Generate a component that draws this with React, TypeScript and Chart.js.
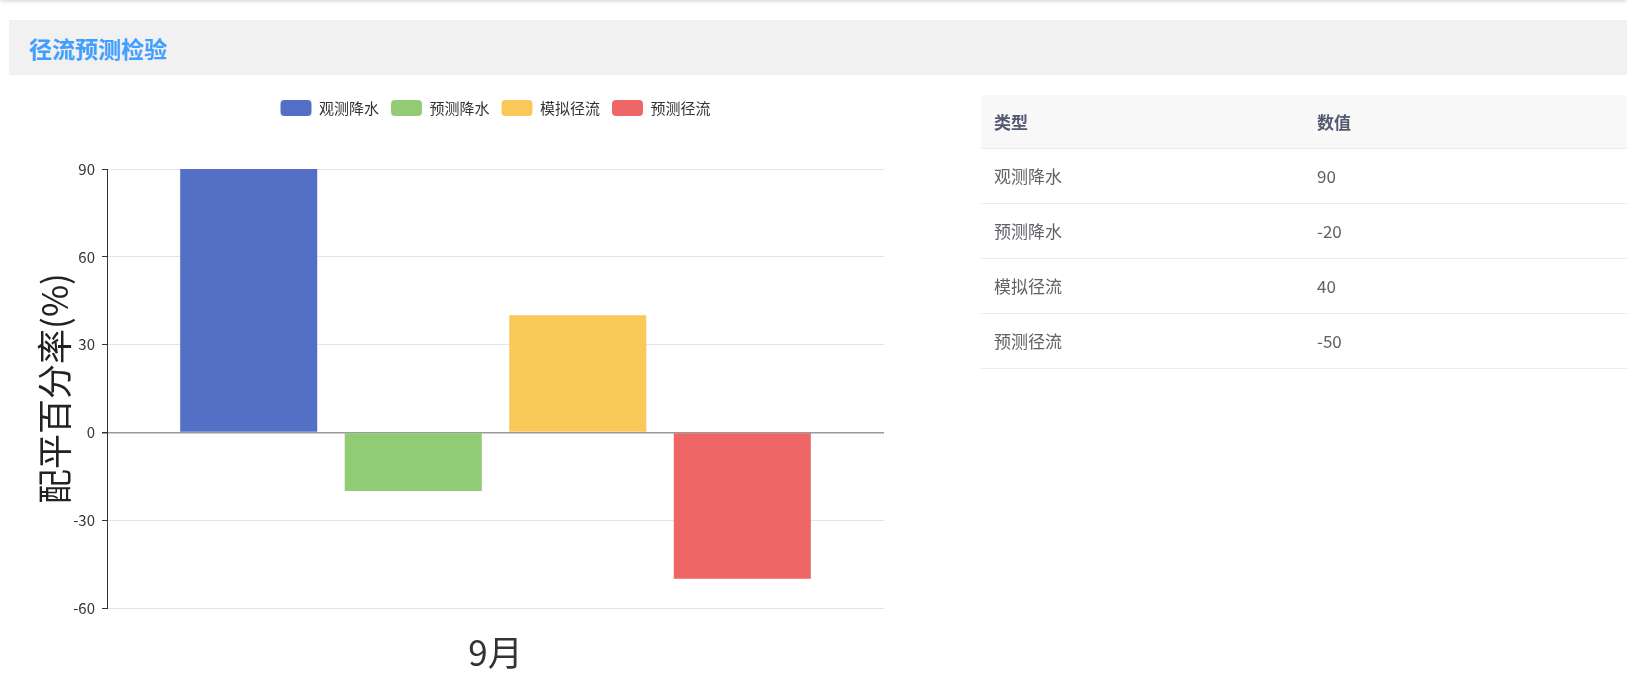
import React, { useEffect, useRef } from 'react';
import { Chart, registerables } from 'chart.js';

Chart.register(...registerables);

const pageTitle = '径流预测检验';
const categories = ['9月'];
const seriesNames = ['观测降水', '预测降水', '模拟径流', '预测径流'];
const seriesValues = [90, -20, 40, -50];
const seriesColors = ['#5470c6', '#91cc75', '#fac858', '#ee6666'];
const yMin = -60;
const yMax = 90;
const yStep = 30;
const yTitle = '配平百分率(%)';
const tableHeaders = ['类型', '数值'];

const FONT = '"Noto Sans CJK SC", "Microsoft YaHei", "Noto Sans", sans-serif';

const legendSpacer = {
  id: 'legendSpacer',
  beforeInit(chart: any) {
    const legend = chart.legend;
    if (!legend) return;
    const orig = legend.fit;
    legend.fit = function () {
      orig.call(this);
      this.height += 43;
    };
  },
};

function BarChart() {
  const ref = useRef<HTMLCanvasElement | null>(null);
  useEffect(() => {
    if (!ref.current) return;
    const chart = new Chart(ref.current, {
      type: 'bar',
      data: {
        labels: categories,
        datasets: seriesNames.map((name, i) => ({
          label: name,
          data: [seriesValues[i]],
          backgroundColor: seriesColors[i],
          borderWidth: 0,
          categoryPercentage: 0.847,
          barPercentage: 0.833,
        })),
      },
      options: {
        animation: false,
        responsive: false,
        maintainAspectRatio: false,
        layout: { padding: { top: 8, right: 0, bottom: 0, left: 0 } },
        font: { family: FONT },
        plugins: {
          tooltip: { enabled: false },
          legend: {
            position: 'top',
            labels: {
              boxWidth: 31,
              boxHeight: 16,
              padding: 12,
              useBorderRadius: true,
              borderRadius: 4,
              color: '#333',
              font: { family: FONT, size: 15 },
            },
          },
        },
        scales: {
          x: {
            type: 'category',
            grid: { display: false, drawTicks: false },
            border: { display: false },
            ticks: {
              color: '#333',
              padding: 24,
              font: { family: FONT, size: 35 },
            },
          },
          y: {
            min: yMin,
            max: yMax,
            afterFit: (s: any) => {
              s.width = 98;
            },
            ticks: {
              stepSize: yStep,
              color: '#333',
              padding: 7,
              font: { family: FONT, size: 15 },
            },
            grid: {
              color: (ctx: any) => (ctx.tick && ctx.tick.value === 0 ? '#9a9a9a' : '#e0e6f1'),
              lineWidth: (ctx: any) => (ctx.tick && ctx.tick.value === 0 ? 1.5 : 1),
              tickColor: '#333',
              tickLength: 5,
            },
            border: { color: '#333', width: 1 },
            title: {
              display: true,
              text: yTitle,
              color: '#222',
              padding: { top: 25, bottom: 0 },
              font: { family: FONT, size: 35 },
            },
          },
          yRight: {
            type: 'linear',
            position: 'right',
            display: true,
            grid: { display: false, drawTicks: false },
            border: { display: false },
            ticks: { display: false },
            afterFit: (s: any) => {
              s.width = 98;
            },
          },
        },
      },
      plugins: [legendSpacer],
    });
    return () => chart.destroy();
  }, []);
  return <canvas ref={ref} width={973} height={618} style={{ display: 'block', width: 973, height: 618 }} />;
}

export default function App() {
  const cellBase: React.CSSProperties = {
    textAlign: 'left',
    padding: '0 13px',
    borderBottom: '1px solid #e8eaec',
    boxSizing: 'border-box',
  };
  return (
    <div style={{ position: 'fixed', inset: 0, overflow: 'hidden', background: '#fff', fontFamily: FONT }}>
      <div style={{ position: 'absolute', left: 0, top: -6, width: '100%', height: 6, boxShadow: '0 1px 4px rgba(0,0,0,0.18)' }} />
      <div
        style={{
          position: 'absolute',
          left: 9,
          top: 20,
          width: 1618,
          height: 55,
          background: '#f1f1f2',
          display: 'flex',
          alignItems: 'center',
        }}
      >
        <span style={{ marginLeft: 20, fontSize: 23, fontWeight: 'bold', color: '#409eff' }}>{pageTitle}</span>
      </div>
      <div style={{ position: 'absolute', left: 9, top: 80 }}>
        <BarChart />
      </div>
      <table
        style={{
          position: 'absolute',
          left: 981,
          top: 95,
          width: 646,
          borderCollapse: 'collapse',
          tableLayout: 'fixed',
          fontSize: 17,
        }}
      >
        <thead>
          <tr style={{ background: '#f8f8f9' }}>
            {tableHeaders.map((h) => (
              <th key={h} style={{ ...cellBase, height: 53, fontWeight: 'bold', color: '#515a6e' }}>
                {h}
              </th>
            ))}
          </tr>
        </thead>
        <tbody>
          {seriesNames.map((n, i) => (
            <tr key={n}>
              <td style={{ ...cellBase, color: '#5f6166', height: 55 }}>{n}</td>
              <td style={{ ...cellBase, color: '#5f6166', height: 55 }}>{seriesValues[i]}</td>
            </tr>
          ))}
        </tbody>
      </table>
    </div>
  );
}
